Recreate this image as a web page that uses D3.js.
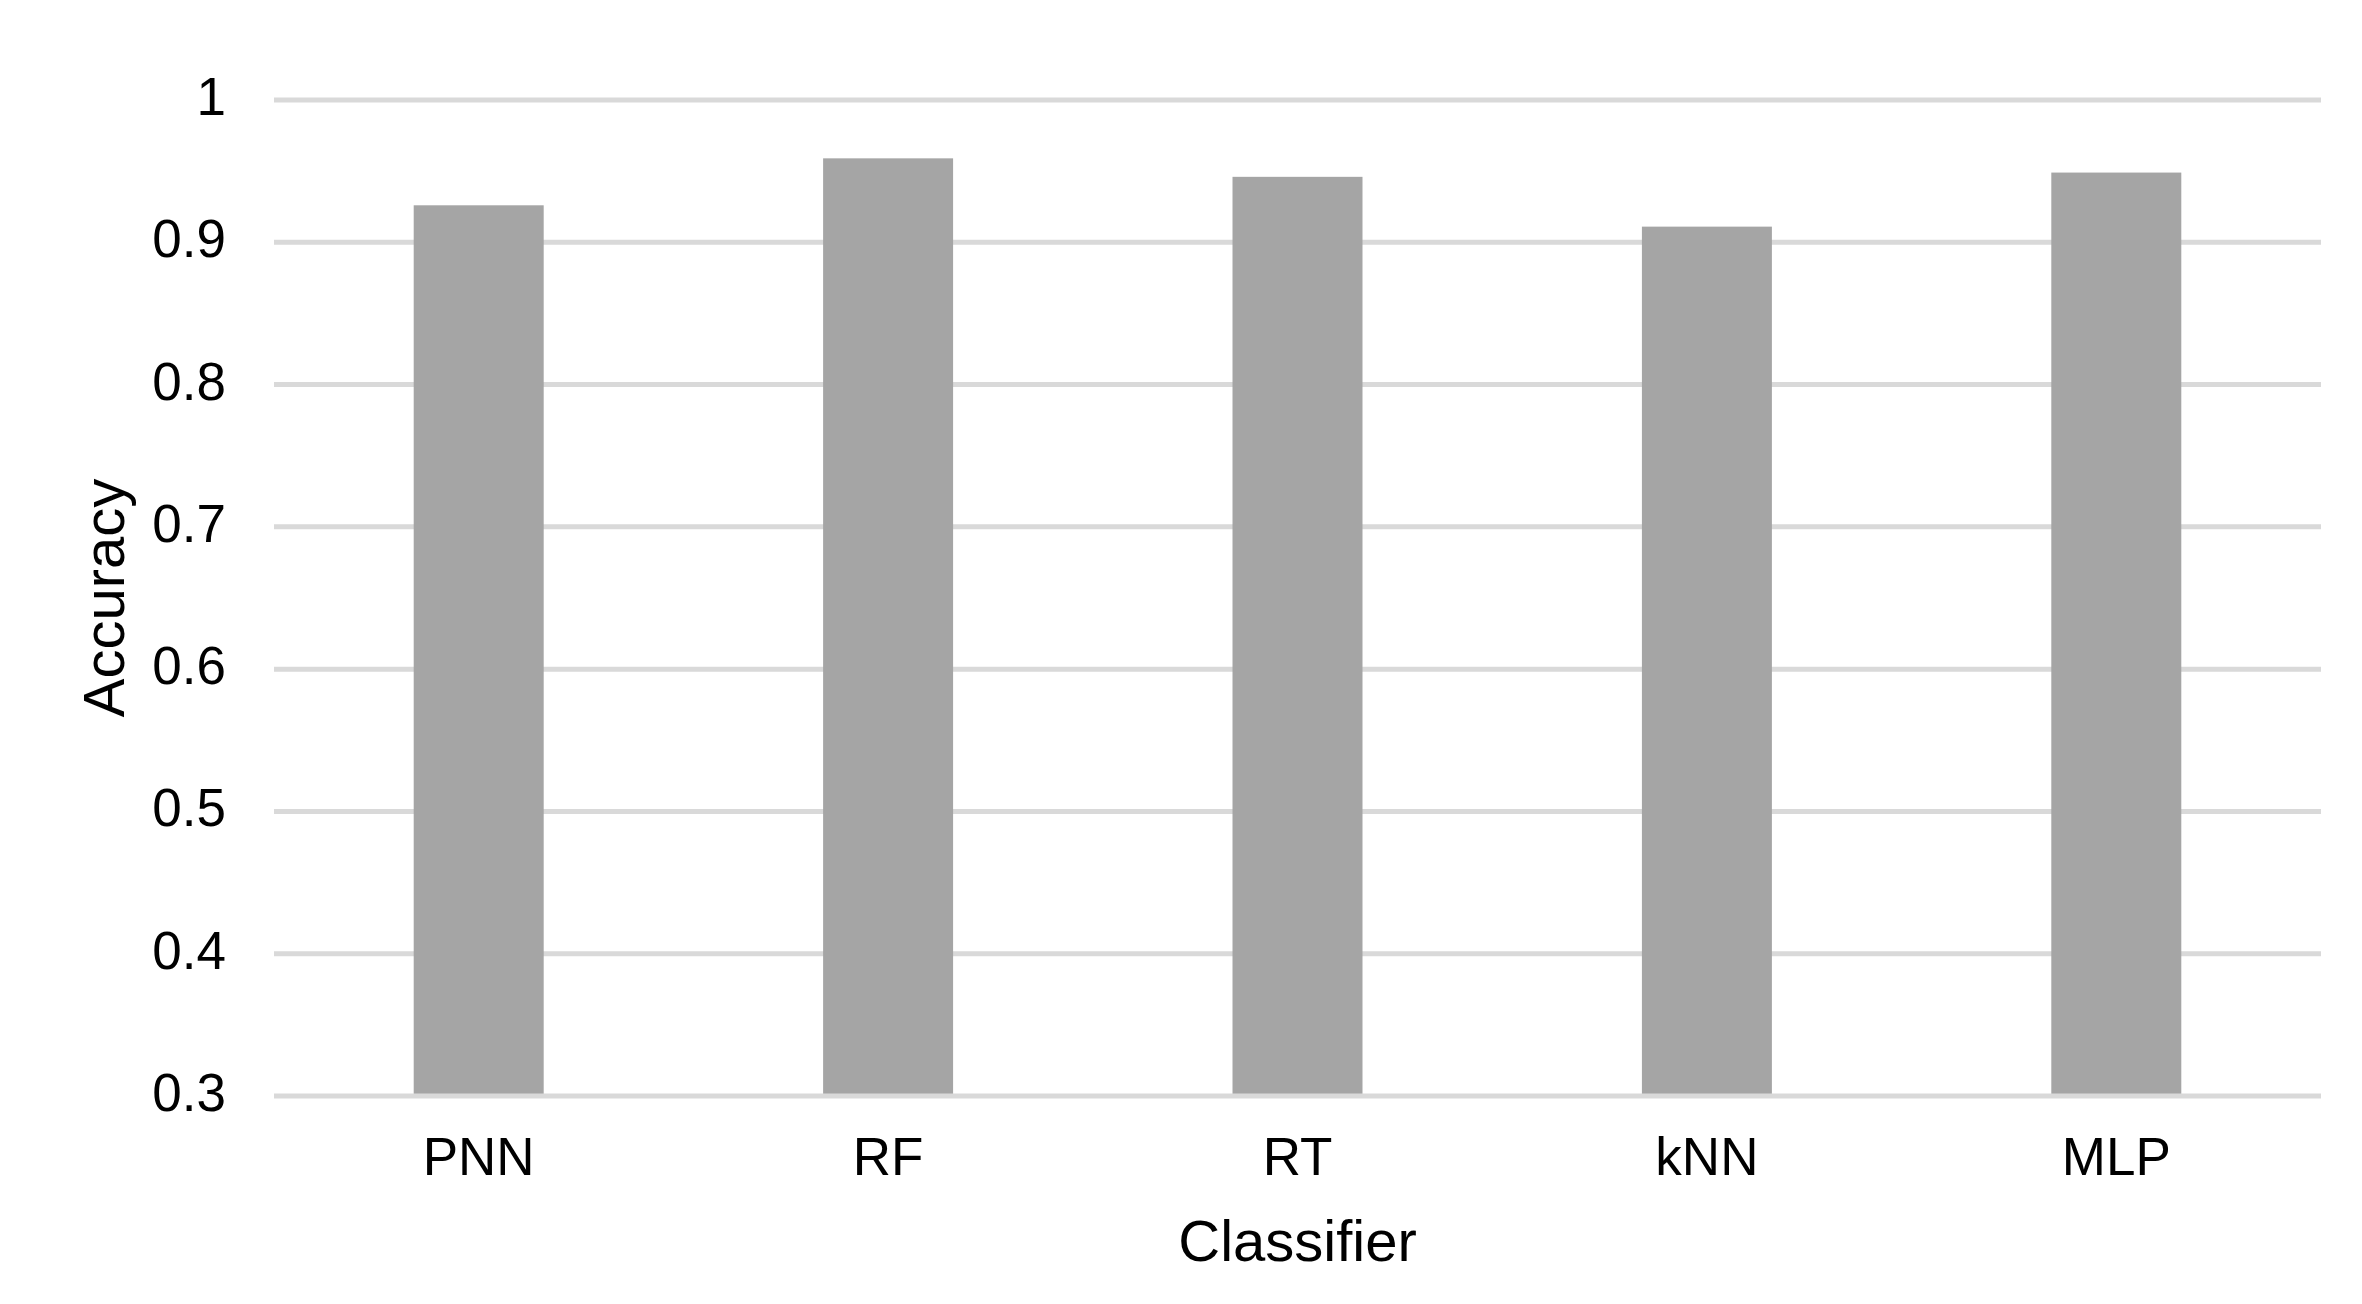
<!DOCTYPE html>
<html>
<head>
<meta charset="utf-8">
<script src="https://cdn.jsdelivr.net/npm/d3@7"></script>
<style>
  html, body { margin: 0; padding: 0; background: #fff; }
  svg { display: block; }
  text { font-family: "Liberation Sans", Arial, Helvetica, sans-serif; fill: #000; }
</style>
</head>
<body>
<svg id="chart" width="2362" height="1304"></svg>
<script>
const categories = ["PNN", "RF", "RT", "kNN", "MLP"];
const accuracy = [0.926, 0.959, 0.946, 0.911, 0.949];
const yTicks = [0.3, 0.4, 0.5, 0.6, 0.7, 0.8, 0.9, 1];
const yTickLabels = ["0.3", "0.4", "0.5", "0.6", "0.7", "0.8", "0.9", "1"];
const xTitle = "Classifier";
const yTitle = "Accuracy";

const W = 2362, H = 1304;
const plot = { left: 274, right: 2321, top: 100, bottom: 1096 };

const svg = d3.select("#chart");

const x = d3.scaleBand()
  .domain(categories)
  .range([plot.left, plot.right])
  .paddingInner(0.6825)
  .paddingOuter(0.34125);

const y = d3.scaleLinear()
  .domain([0.3, 1])
  .range([plot.bottom, plot.top]);

// gridlines (all but baseline)
svg.append("g").selectAll("line")
  .data(yTicks.filter(t => t !== 0.3))
  .join("line")
  .attr("x1", plot.left).attr("x2", plot.right)
  .attr("y1", d => y(d)).attr("y2", d => y(d))
  .attr("stroke", "#d9d9d9").attr("stroke-width", 5);

// bars
svg.append("g").selectAll("rect")
  .data(categories.map((c, i) => ({ c, v: accuracy[i] })))
  .join("rect")
  .attr("x", d => x(d.c))
  .attr("width", x.bandwidth())
  .attr("y", d => y(d.v))
  .attr("height", d => y(0.3) - y(d.v))
  .attr("fill", "#a5a5a5");

// baseline gridline
svg.append("line")
  .attr("x1", plot.left).attr("x2", plot.right)
  .attr("y1", y(0.3)).attr("y2", y(0.3))
  .attr("stroke", "#d9d9d9").attr("stroke-width", 5);

// y tick labels
svg.append("g").selectAll("text")
  .data(yTicks)
  .join("text")
  .attr("x", 226)
  .attr("y", d => y(d) + 15)
  .attr("text-anchor", "end")
  .attr("font-size", 53)
  .text((d, i) => yTickLabels[i]);

// x tick labels
svg.append("g").selectAll("text")
  .data(categories)
  .join("text")
  .attr("x", d => x(d) + x.bandwidth() / 2)
  .attr("y", 1175)
  .attr("text-anchor", "middle")
  .attr("font-size", 53)
  .text(d => d);

// axis titles
svg.append("text")
  .attr("x", (plot.left + plot.right) / 2)
  .attr("y", 1261)
  .attr("text-anchor", "middle")
  .attr("font-size", 58)
  .text(xTitle);

svg.append("text")
  .attr("transform", `translate(124, ${(plot.top + plot.bottom) / 2}) rotate(-90)`)
  .attr("text-anchor", "middle")
  .attr("font-size", 58)
  .text(yTitle);
</script>
</body>
</html>
